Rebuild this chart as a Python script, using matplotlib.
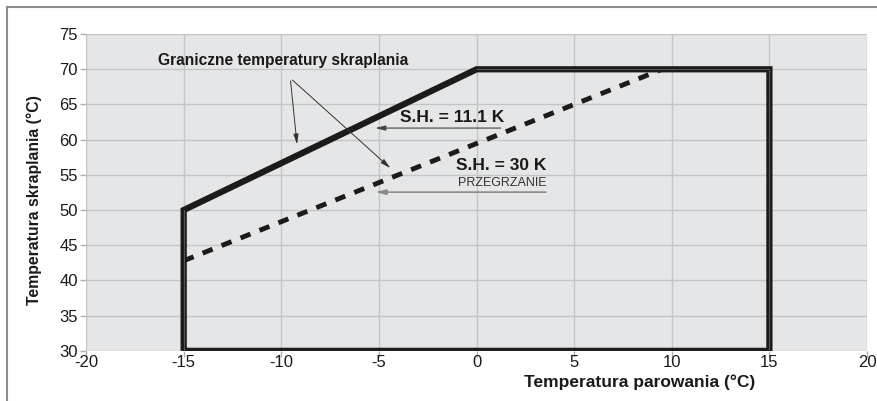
import matplotlib
matplotlib.use("Agg")
import matplotlib.pyplot as plt
from matplotlib.patches import Rectangle

plt.rcParams['font.family'] = ['Liberation Sans', 'DejaVu Sans']

# Data
envelope_x = [-15, -15, 0, 15, 15, -15]
envelope_y = [30, 50, 70, 70, 30, 30]
sh30_x = [-15, 9.5]
sh30_y = [42.8, 70]
x_ticks = [-20, -15, -10, -5, 0, 5, 10, 15, 20]
x_tick_labels = ['-20', '-15', '-10', '-5', '0', '5', '10', '15', '20']
y_ticks = [30, 35, 40, 45, 50, 55, 60, 65, 70, 75]
y_tick_labels = [str(v) for v in y_ticks]

fig = plt.figure(figsize=(8.78, 4.01), dpi=100)
ax = fig.add_axes([0.098, 0.125, 0.8895, 0.79])
ax.set_facecolor('#e5e6e8')
ax.set_xlim(-20, 20)
ax.set_ylim(30, 75)
ax.set_xticks(x_ticks)
ax.set_xticklabels(x_tick_labels)
ax.set_yticks(y_ticks)
ax.set_yticklabels(y_tick_labels)
ax.grid(True, color='#c4c5c7', lw=1.0)
ax.set_axisbelow(True)
for s in ax.spines.values():
    s.set_visible(False)
ax.tick_params(axis='both', colors='#b0b0b0', labelcolor='#1a1a1a', labelsize=12, length=4, width=1)
ax.tick_params(axis='x', pad=-1)
ax.tick_params(axis='y', pad=2)

# Envelope
ax.plot(envelope_x, envelope_y, color='#1c1a1b', lw=4.5, solid_joinstyle='miter', solid_capstyle='butt', zorder=3)
ax.plot(envelope_x[2:], envelope_y[2:], color='#555555', lw=0.8, zorder=4)
ax.plot(envelope_x[:2], envelope_y[:2], color='#555555', lw=0.8, zorder=4)
# SH 30 line
ax.plot(sh30_x, sh30_y, color='#1c1a1b', lw=3.5, dashes=(2.2, 2.0), zorder=3)

# Annotations
ax.text(-9.9, 71.3, 'Graniczne temperatury skraplania', fontsize=11.2, fontweight='bold',
        ha='center', va='center', color='#1a1a1a')
for end in [(-9.18, 58.95), (-4.31, 55.7)]:
    ax.annotate('', xy=end, xytext=(-9.54, 68.75),
                arrowprops=dict(arrowstyle='-|>,head_length=0.6,head_width=0.15', color='#333333', lw=0.7))
ax.text(-1.23, 63.1, 'S.H. = 11.1 K', fontsize=12.5, fontweight='bold', ha='center', va='center', color='#1a1a1a')
ax.annotate('', xy=(-5.33, 61.65), xytext=(1.38, 61.65),
            arrowprops=dict(arrowstyle='-|>,head_length=0.6,head_width=0.15', color='#444444', lw=0.8))
ax.text(1.28, 56.4, 'S.H. = 30 K', fontsize=12.5, fontweight='bold', ha='center', va='center', color='#1a1a1a')
ax.text(1.33, 53.8, 'PRZEGRZANIE', fontsize=9, ha='center', va='center', color='#333333')
ax.annotate('', xy=(-5.33, 52.55), xytext=(3.69, 52.55),
            arrowprops=dict(arrowstyle='-|>,head_length=0.6,head_width=0.15', color='#8a8a8a', lw=1.2))

ax.set_ylabel('Temperatura skraplania (°C)', fontsize=11.3, fontweight='bold', color='#1a1a1a')
ax.yaxis.set_label_coords(-0.056, 0.477)
ax.set_xlabel('Temperatura parowania (°C)', fontsize=12.5, fontweight='bold', color='#1a1a1a')
ax.xaxis.set_label_coords(0.709, -0.098)
ax.xaxis.label.set_va('center')

# Outer frame (partially visible)
fig.patches.append(Rectangle((7/878, -0.1), 1.2, 1 - 7/401 + 0.1, transform=fig.transFigure,
                             fill=False, edgecolor='#8c8c8c', lw=1.5))

fig.savefig('out.png', dpi=100)
